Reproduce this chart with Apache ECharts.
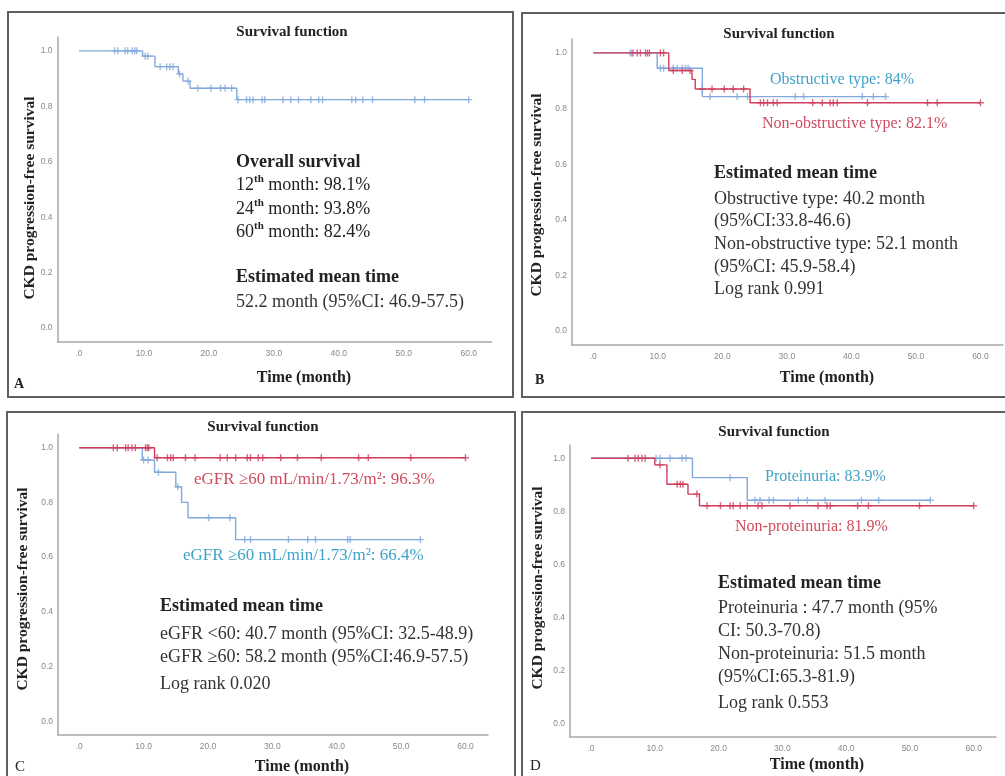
<!DOCTYPE html>
<html><head><meta charset="utf-8">
<script src="https://cdn.jsdelivr.net/npm/echarts@6/dist/echarts.min.js"></script>
<style>html,body{margin:0;padding:0;background:#fff}#c{width:1005px;height:776px}</style>
</head><body><div id="c"></div>
<script>
// ---- tick labels ----
const xTickValues = [0, 10, 20, 30, 40, 50, 60];
const xTickLabels = ['.0', '10.0', '20.0', '30.0', '40.0', '50.0', '60.0'];
const yTickValues = [0, 0.2, 0.4, 0.6, 0.8, 1.0];
const yTickLabels = ['0.0', '0.2', '0.4', '0.6', '0.8', '1.0'];

// ---- Panel A: overall ----
const aTimes = [0, 9.8, 11.7, 15.3, 16.0, 17.1, 24.3, 60.0];
const aSurv  = [1.0, 0.981, 0.943, 0.917, 0.891, 0.865, 0.824, 0.824];
const aCens  = [5.5, 6.0, 7.1, 7.5, 8.2, 8.6, 8.9, 10.2, 10.6, 12.5, 13.5, 14.0, 14.5, 15.5, 16.8, 18.3, 20.3, 21.8, 22.5, 23.5, 24.5, 25.8, 26.3, 26.8, 28.2, 28.6, 31.4, 32.6, 33.8, 35.7, 36.9, 37.5, 42.0, 42.6, 43.7, 45.2, 51.7, 53.2, 60.0];

// ---- Panel B: obstructive (blue) / non-obstructive (red) ----
const bObsTimes = [0, 9.9, 16.9, 45.3];
const bObsSurv  = [1.0, 0.945, 0.843, 0.843];
const bObsCens  = [5.7, 6.2, 10.4, 10.9, 12.4, 13.0, 13.8, 14.3, 14.7, 18.1, 22.3, 23.9, 31.3, 32.6, 41.7, 43.4, 45.3];
const bNonTimes = [0, 11.7, 15.3, 15.8, 24.3, 60.0];
const bNonSurv  = [1.0, 0.937, 0.905, 0.870, 0.821, 0.821];
const bNonCens  = [6.0, 6.8, 7.3, 8.1, 8.4, 8.7, 10.4, 10.9, 12.4, 13.8, 15.0, 16.9, 18.4, 20.3, 21.7, 23.3, 25.9, 26.4, 27.0, 27.9, 28.5, 34.0, 35.5, 36.7, 37.2, 37.8, 42.5, 51.8, 53.3, 60.0];

// ---- Panel C: eGFR ----
const cHighTimes = [0, 11.7, 60.0];
const cHighSurv  = [1.0, 0.963, 0.963];
const cHighCens  = [5.3, 5.9, 7.2, 7.6, 8.2, 8.7, 10.3, 10.6, 10.8, 12.1, 13.7, 14.2, 14.6, 16.5, 18.0, 21.9, 23.0, 24.3, 26.1, 26.6, 27.8, 28.5, 31.3, 33.9, 37.6, 43.4, 44.9, 51.5, 60.0];
const cLowTimes = [0, 9.8, 11.7, 15.0, 15.9, 16.9, 24.3, 53.0];
const cLowSurv  = [1.0, 0.955, 0.910, 0.857, 0.800, 0.744, 0.664, 0.664];
const cLowCens  = [10.0, 10.7, 12.3, 15.3, 20.1, 23.4, 25.7, 26.6, 32.5, 35.5, 36.7, 41.7, 42.1, 53.0];

// ---- Panel D: proteinuria ----
const dProTimes = [0, 15.9, 24.5, 53.2];
const dProSurv  = [1.0, 0.927, 0.842, 0.842];
const dProCens  = [10.2, 10.8, 12.4, 14.3, 14.9, 21.8, 25.7, 26.5, 27.9, 28.6, 32.5, 33.9, 36.7, 42.4, 45.1, 53.2];
const dNonTimes = [0, 10.0, 11.9, 15.2, 17.0, 60.0];
const dNonSurv  = [1.0, 0.975, 0.902, 0.865, 0.821, 0.821];
const dNonCens  = [5.8, 6.9, 7.4, 8.0, 8.5, 10.8, 13.5, 14.0, 14.4, 16.6, 18.2, 20.3, 21.8, 22.3, 23.4, 24.5, 26.2, 26.8, 31.2, 35.6, 37.0, 37.5, 41.8, 43.5, 51.5, 60.0];

// ---- styles ----
const BLUE = '#83a9dc', RED = '#cf3d5c';
const BLUE_TXT = '#3fa2c8', RED_TXT = '#cf4b5e';
const SERIF = '"Liberation Serif", "DejaVu Serif", serif';
const PLUS = 'path://M2,0h1v2h2v1h-2v2h-1v-2h-2v-1h2z';

function survAt(ts, ss, t) { let v = ss[0]; for (let i = 0; i < ts.length; i++) if (ts[i] <= t) v = ss[i]; return v; }
function curve(gi, ts, ss, cens, color) {
  return [
    { type: 'line', xAxisIndex: gi, yAxisIndex: gi, step: 'end', showSymbol: false, silent: true,
      lineStyle: { color: color, width: 1.4 }, data: ts.map((t, i) => [t, ss[i]]) },
    { type: 'scatter', xAxisIndex: gi, yAxisIndex: gi, symbol: PLUS, symbolSize: 7, silent: true,
      itemStyle: { color: color }, data: cens.map(t => [t, survAt(ts, ss, t)]) }
  ];
}

const grids = [
  { left: 57.5, top: 37, width: 434, height: 305 },
  { left: 572, top: 39, width: 431, height: 306 },
  { left: 58, top: 434, width: 430, height: 301 },
  { left: 570, top: 445, width: 426, height: 292 }
];

const xAxes = grids.map((g, i) => ({
  type: 'value', gridIndex: i, min: -3.3, max: 63.5,
  axisLine: { show: true, onZero: false, lineStyle: { color: '#a9a9a9', width: 1.5 } },
  axisTick: { show: false }, splitLine: { show: false },
  axisLabel: { customValues: xTickValues, formatter: v => xTickLabels[xTickValues.indexOf(v)],
    color: '#888', fontSize: 8.5, fontFamily: '"Liberation Sans", Arial, sans-serif', margin: 7,
    showMinLabel: true, showMaxLabel: true }
}));
const yAxes = grids.map((g, i) => ({
  type: 'value', gridIndex: i, min: -0.05, max: 1.05,
  axisLine: { show: true, onZero: false, lineStyle: { color: '#a9a9a9', width: 1.5 } },
  axisTick: { show: false }, splitLine: { show: false },
  axisLabel: { customValues: yTickValues, formatter: v => yTickLabels[yTickValues.indexOf(v)],
    color: '#888', fontSize: 8.5, fontFamily: '"Liberation Sans", Arial, sans-serif', margin: 5 }
}));

const series = [].concat(
  curve(0, aTimes, aSurv, aCens, BLUE),
  curve(1, bObsTimes, bObsSurv, bObsCens, BLUE),
  curve(1, bNonTimes, bNonSurv, bNonCens, RED),
  curve(2, cLowTimes, cLowSurv, cLowCens, BLUE),
  curve(2, cHighTimes, cHighSurv, cHighCens, RED),
  curve(3, dProTimes, dProSurv, dProCens, BLUE),
  curve(3, dNonTimes, dNonSurv, dNonCens, RED)
);

function txt(x, y, text, opt) {
  opt = opt || {};
  return { type: 'text', x: x, y: y, rotation: opt.rot || 0, silent: true, z: 10,
    style: { text: text, fill: opt.color || '#222', textAlign: opt.align || 'left', textVerticalAlign: 'middle',
      font: (opt.bold ? 'bold ' : '') + (opt.size || 18) + 'px ' + SERIF } };
}
function sup(x, y, base, s, rest) {
  return { type: 'text', x: x, y: y, silent: true, z: 10,
    style: { text: '{n|' + base + '}{s|' + s + '}{n|' + rest + '}', textVerticalAlign: 'middle',
      rich: { n: { font: '18px ' + SERIF, fill: '#222', lineHeight: 22, verticalAlign: 'middle' },
              s: { font: 'bold 11px ' + SERIF, fill: '#222', lineHeight: 11, verticalAlign: 'top' } } } };
}
function box(x, y, w, h) {
  return { type: 'rect', silent: true, z: 1, shape: { x: x, y: y, width: w, height: h },
    style: { fill: 'none', stroke: '#5f5f5f', lineWidth: 2 } };
}

const graphics = [
  box(8, 12, 505, 385), box(522, 13, 520, 384), box(7, 412, 508, 380), box(522, 412, 520, 380),
  // titles
  txt(292, 32, 'Survival function', { bold: true, size: 15, align: 'center' }),
  txt(779, 34, 'Survival function', { bold: true, size: 15, align: 'center' }),
  txt(263, 427, 'Survival function', { bold: true, size: 15, align: 'center' }),
  txt(774, 432, 'Survival function', { bold: true, size: 15, align: 'center' }),
  // y names
  txt(30, 198, 'CKD progression-free survival', { bold: true, size: 15.5, align: 'center', rot: Math.PI / 2 }),
  txt(537, 195, 'CKD progression-free survival', { bold: true, size: 15.5, align: 'center', rot: Math.PI / 2 }),
  txt(23, 589, 'CKD progression-free survival', { bold: true, size: 15.5, align: 'center', rot: Math.PI / 2 }),
  txt(538, 588, 'CKD progression-free survival', { bold: true, size: 15.5, align: 'center', rot: Math.PI / 2 }),
  // x names
  txt(304, 378, 'Time (month)', { bold: true, size: 16, align: 'center' }),
  txt(827, 378, 'Time (month)', { bold: true, size: 16, align: 'center' }),
  txt(302, 767, 'Time (month)', { bold: true, size: 16, align: 'center' }),
  txt(817, 765, 'Time (month)', { bold: true, size: 16, align: 'center' }),
  // panel letters
  txt(14, 384, 'A', { bold: true, size: 14 }),
  txt(535, 380, 'B', { bold: true, size: 14 }),
  txt(15, 767, 'C', { size: 15 }),
  txt(530, 766, 'D', { size: 15 }),
  // Panel A annotations
  txt(236, 162, 'Overall survival', { bold: true, size: 18 }),
  sup(236, 185, '12', 'th', ' month: 98.1%'),
  sup(236, 209, '24', 'th', ' month: 93.8%'),
  sup(236, 232, '60', 'th', ' month: 82.4%'),
  txt(236, 277, 'Estimated mean time', { bold: true, size: 18 }),
  txt(236, 302, '52.2 month (95%CI: 46.9-57.5)', { size: 18, color: '#333' }),
  // Panel B annotations
  txt(770, 80, 'Obstructive type: 84%', { size: 16, color: BLUE_TXT }),
  txt(762, 124, 'Non-obstructive type: 82.1%', { size: 16, color: RED_TXT }),
  txt(714, 173, 'Estimated mean time', { bold: true, size: 18 }),
  txt(714, 199, 'Obstructive type: 40.2 month', { size: 18, color: '#333' }),
  txt(714, 221, '(95%CI:33.8-46.6)', { size: 18, color: '#333' }),
  txt(714, 244, 'Non-obstructive type: 52.1 month', { size: 18, color: '#333' }),
  txt(714, 267, '(95%CI: 45.9-58.4)', { size: 18, color: '#333' }),
  txt(714, 289, 'Log rank 0.991', { size: 18, color: '#333' }),
  // Panel C annotations
  txt(194, 480, 'eGFR \u226560 mL/min/1.73/m\u00b2: 96.3%', { size: 17, color: RED_TXT }),
  txt(183, 556, 'eGFR \u226560 mL/min/1.73/m\u00b2: 66.4%', { size: 17, color: BLUE_TXT }),
  txt(160, 606, 'Estimated mean time', { bold: true, size: 18 }),
  txt(160, 634, 'eGFR <60: 40.7 month (95%CI: 32.5-48.9)', { size: 18, color: '#333' }),
  txt(160, 657, 'eGFR \u226560: 58.2 month (95%CI:46.9-57.5)', { size: 18, color: '#333' }),
  txt(160, 684, 'Log rank 0.020', { size: 18, color: '#333' }),
  // Panel D annotations
  txt(765, 477, 'Proteinuria: 83.9%', { size: 16, color: BLUE_TXT }),
  txt(735, 527, 'Non-proteinuria: 81.9%', { size: 16, color: RED_TXT }),
  txt(718, 583, 'Estimated mean time', { bold: true, size: 18 }),
  txt(718, 608, 'Proteinuria : 47.7 month (95%', { size: 18, color: '#333' }),
  txt(718, 631, 'CI: 50.3-70.8)', { size: 18, color: '#333' }),
  txt(718, 654, 'Non-proteinuria: 51.5 month', { size: 18, color: '#333' }),
  txt(718, 677, '(95%CI:65.3-81.9)', { size: 18, color: '#333' }),
  txt(718, 703, 'Log rank 0.553', { size: 18, color: '#333' })
];

const chart = echarts.init(document.getElementById('c'), null, { renderer: 'canvas' });
chart.setOption({
  animation: false,
  backgroundColor: '#fff',
  grid: grids,
  xAxis: xAxes,
  yAxis: yAxes,
  series: series,
  graphic: graphics
});
</script>
</body></html>
